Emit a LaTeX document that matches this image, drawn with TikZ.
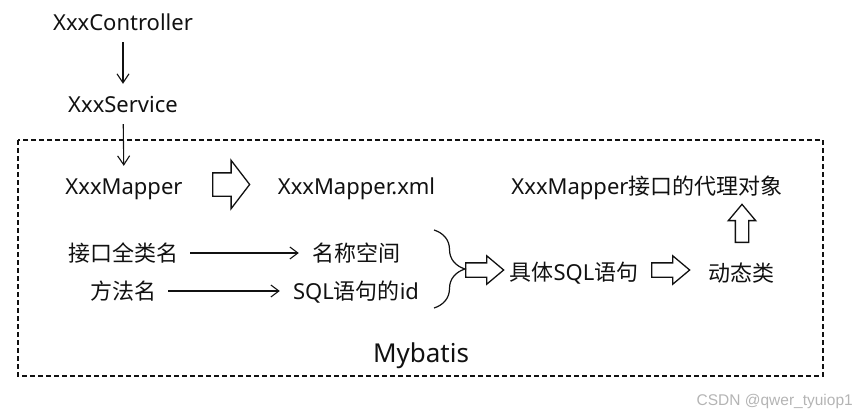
\documentclass[tikz,border=0pt]{standalone}
\usepackage{fontspec}
\setmainfont{Noto Sans}
\newfontfamily\cjk{Noto Sans CJK SC}
\newfontfamily\markfont{Liberation Sans}
\usepackage{xcolor}
\usetikzlibrary{arrows.meta,positioning,shapes.arrows,decorations.pathreplacing}
\definecolor{ink}{HTML}{111111}
\definecolor{mark}{HTML}{B4B4B4}

\begin{document}
\begin{tikzpicture}[x=1pt,y=-1pt,font=\fontsize{22}{26}\selectfont,
  txt/.style={inner sep=0pt,text height=20pt,text depth=4pt,text=ink},
  down/.style={-{Straight Barb[length=9pt,width=12pt]},line width=1.1pt,draw=ink,shorten <=8pt,shorten >=8pt},
  link/.style={-{Straight Barb[length=8pt,width=12pt]},line width=1.1pt,draw=ink,shorten <=12pt,shorten >=13pt},
  hollow/.style={single arrow,draw=ink,line width=1.3pt,inner xsep=0pt,single arrow head indent=0pt},
  bigblk/.style={hollow,inner ysep=11pt,single arrow head extend=12.5pt,minimum height=37pt,single arrow tip angle=105},
  smallblk/.style={hollow,inner ysep=6.5pt,single arrow head extend=7pt,minimum height=38pt,single arrow tip angle=80},
  upblk/.style={smallblk,inner xsep=6pt,inner ysep=0pt,shape border rotate=90}]
\useasboundingbox (0,0) rectangle (859,415);
% frame of the framework part
\draw[ink,line width=1.2pt,dash pattern=on 5pt off 3pt] (18,140) rectangle (823,376);
\node[txt] (ctrl) at (123,22) {XxxController};
\node[txt] (svc) at (123,104) {XxxService};
\node[txt] (mapper) at (124,186) {XxxMapper};
\node[txt] (xml) at (356.5,186) {XxxMapper.xml};
\node[txt] (proxy) at (647,186) {XxxMapper{\cjk 接口的代理对象}};
\node[txt] (iface) at (123,253) {\cjk 接口全类名};
\node[txt] (ns) at (356,253) {\cjk 名称空间};
\node[txt] (meth) at (123,291) {\cjk 方法名};
\node[txt] (sqlid) at (356,291) {SQL{\cjk 语句的}id};
\node[txt] (sql) at (574,272) {{\cjk 具体}SQL{\cjk 语句}};
\node[txt] (dyn) at (741,273) {\cjk 动态类};
\node[txt,font=\fontsize{26}{30}\selectfont] (mybatis) at (421,354) {Mybatis};
\draw[down] (ctrl) -- (svc);
\draw[down] (svc) -- (mapper);
\draw[link] (iface) -- (ns);
\draw[link] (meth) -- (sqlid);
% hollow block arrows and the brace that joins the two lines
\node[bigblk,anchor=tail] (blk1) at (212,184.5) {};
\coordinate (brtop) at (434,230);
\coordinate (brbot) at (434,308);
\draw[ink,line width=1.2pt,decorate,decoration={brace,amplitude=31pt}] (brtop) -- (brbot);
\node[smallblk,anchor=tail] (blk2) at (465,270) {};
\node[smallblk,anchor=tail] (blk3) at (651,270) {};
\node[upblk,anchor=tail] (blk4) at (742,243) {};
\node[font=\markfont\fontsize{15.5}{18}\selectfont,text=mark,anchor=east,inner sep=0pt] (wm) at (853,401) {CSDN @qwer\_tyuiop1};
\end{tikzpicture}
\end{document}
